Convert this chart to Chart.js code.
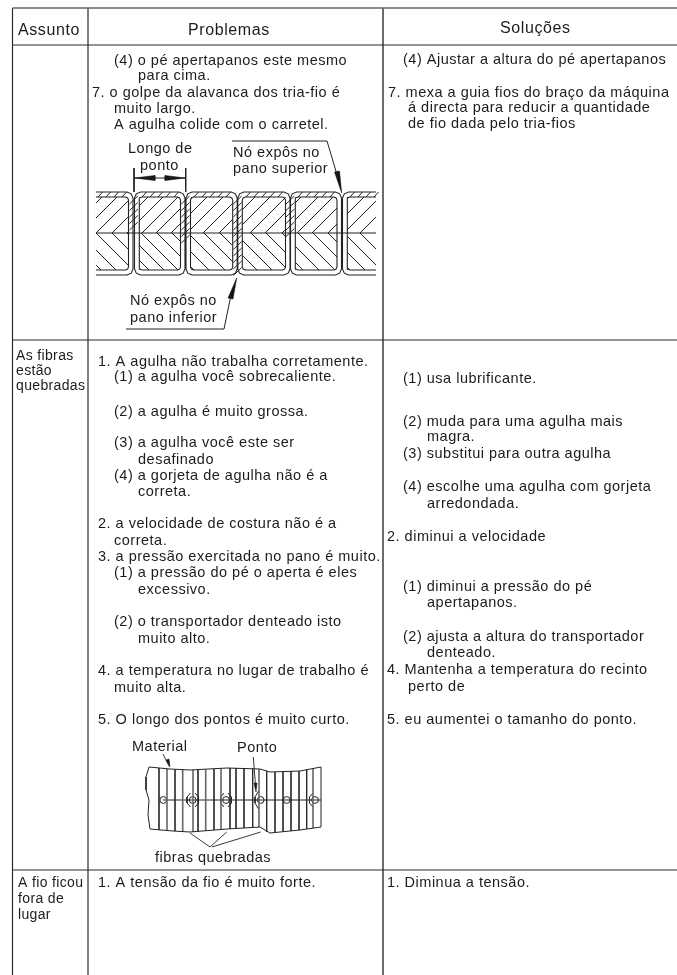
<!DOCTYPE html>
<html lang="pt">
<head>
<meta charset="utf-8">
<title>Assunto / Problemas / Soluções</title>
<script src="https://cdn.jsdelivr.net/npm/chart.js@4/dist/chart.umd.min.js"></script>
<style>
  html, body { margin: 0; padding: 0; background: #fff; }
  canvas { display: block; }
</style>
</head>
<body>
<canvas id="chart" width="677" height="975"></canvas>
<script>
// Everything sits on one x/y scale that reads in page pixels of the scan.
// text rows: [x, baseline, text]
const headers = [
  [18, 35, "Assunto"],
  [188, 35, "Problemas"],
  [500, 33, "Soluções"]
]

const subjects = [
  [16, 360, "As fibras"],
  [16, 375, "estão"],
  [16, 390, "quebradas"],
  [18, 887, "A fio ficou"],
  [18, 903, "fora de"],
  [18, 919, "lugar"]
]

const problems = [
  [114, 65, "(4) o pé apertapanos este mesmo"],
  [138, 80, "para cima."],
  [92, 97, "7. o golpe da alavanca dos tria-fio é"],
  [114, 113, "muito largo."],
  [114, 129, "A agulha colide com o carretel."],
  [98, 366, "1. A agulha não trabalha corretamente."],
  [114, 381, "(1) a agulha você sobrecaliente."],
  [114, 416, "(2) a agulha é muito grossa."],
  [114, 447, "(3) a agulha você este ser"],
  [138, 464, "desafinado"],
  [114, 480, "(4) a gorjeta de agulha não é a"],
  [138, 496, "correta."],
  [98, 528, "2. a velocidade de costura não é a"],
  [114, 545, "correta."],
  [98, 561, "3. a pressão exercitada no pano é muito."],
  [114, 577, "(1) a pressão do pé o aperta é eles"],
  [138, 594, "excessivo."],
  [114, 626, "(2) o transportador denteado isto"],
  [138, 643, "muito alto."],
  [98, 675, "4. a temperatura no lugar de trabalho é"],
  [114, 692, "muito alta."],
  [98, 724, "5. O longo dos pontos é muito curto."],
  [98, 887, "1. A tensão da fio é muito forte."]
]

const solutions = [
  [403, 64, "(4) Ajustar a altura do pé apertapanos"],
  [388, 97, "7. mexa a guia fios do braço da máquina"],
  [408, 112, "á directa para reducir a quantidade"],
  [408, 128, "de fio dada pelo tria-fios"],
  [403, 383, "(1) usa lubrificante."],
  [403, 426, "(2) muda para uma agulha mais"],
  [427, 441, "magra."],
  [403, 458, "(3) substitui para outra agulha"],
  [403, 491, "(4) escolhe uma agulha com gorjeta"],
  [427, 508, "arredondada."],
  [387, 541, "2. diminui a velocidade"],
  [403, 591, "(1) diminui a pressão do pé"],
  [427, 607, "apertapanos."],
  [403, 641, "(2) ajusta a altura do transportador"],
  [427, 657, "denteado."],
  [387, 674, "4. Mantenha a temperatura do recinto"],
  [408, 691, "perto de"],
  [387, 724, "5. eu aumentei o tamanho do ponto."],
  [387, 887, "1. Diminua a tensão."]
]

const figureLabels = [
  [128, 153, "Longo de"],
  [140, 170, "ponto"],
  [233, 157, "Nó expôs no"],
  [233, 173, "pano superior"],
  [130, 305, "Nó expôs no"],
  [130, 322, "pano inferior"],
  [132, 751, "Material"],
  [237, 752, "Ponto"],
  [155, 862, "fibras quebradas"]
]

// table rules: [x0, y0, x1, y1]
const topRule = [[12.5, 8, 677, 8]]
const tableRules = [
  [12.5, 45, 677, 45],
  [12.5, 340, 677, 340],
  [12.5, 870, 677, 870],
  [12.5, 8, 12.5, 975],
  [88, 8, 88, 975]
]
const solutionsRule = [[383, 8, 383, 975]]

// seam figure
const seamCells = [
  [90, 133],
  [134.5, 185],
  [186, 237.2],
  [237.8, 290],
  [290.5, 341.5],
  [342.5, 420]
]
const seamTop = 192
const seamMid = 233
const seamBottom = 275
const seamLeft = 96
const seamRight = 376
const upperHatch = [66, 81, 96, 112, 127, 142, 156, 171, 187, 203, 219, 234, 250, 265, 282, 297, 312, 328, 344, 360, 376]
const lowerHatch = [64, 79, 96, 112, 127, 141, 157, 172, 188, 204, 220, 235, 251, 266, 282, 298, 313, 328, 344, 360]
const topTickX = [98, 106, 114, 122, 142, 150, 158, 166, 174, 194, 202, 210, 218, 226, 246, 254, 262, 270, 278, 298, 306, 314, 322, 330, 350, 358, 366, 374]
// hatched stitch bands: [x, yTop, yBottom]
const bandRuns = [
  [133.7, 200, 232],
  [185.5, 200, 240],
  [237.5, 200, 272],
  [290.2, 200, 236]
]
const seamLeaders = [
  [[134, 168], [134, 192]],
  [[185.7, 168], [185.7, 192]],
  [[134, 178], [185.7, 178]],
  [[232, 141], [327, 141], [338, 178]],
  [[126, 329], [224, 329], [231, 295]]
]
const seamArrows = [
  [[134, 178], [155, 175.5], [155, 180.5]],
  [[185.7, 178], [165, 175.5], [165, 180.5]],
  [[341.7, 193], [334.5, 172], [339.5, 171]],
  [[236.7, 278], [228, 298], [233, 299]]
]

// broken fibres figure
const clothOutline = [
  [149, 767], [146, 777], [146, 790], [149, 800], [148, 815], [150, 829],
  [173, 831], [190, 832], [227, 829], [260, 827], [270, 833], [300, 830], [321, 827],
  [321, 767], [300, 771], [270, 772], [260, 769], [227, 768], [190, 770], [170, 769], [149, 767]
]
// fibres: [x, top, bottom]
const thinFibres = [
  [159, 768, 830], [175, 769.5, 831], [198, 770, 831.5], [214, 769, 830], [230, 768, 829],
  [236, 768, 828.5], [244, 768, 828], [252.7, 768.5, 827.5], [266.7, 771, 832], [275, 772, 832],
  [283, 771.5, 831.5], [291, 771, 831], [299, 771, 830], [306.7, 769.5, 829]
]
const thickFibres = [
  [167, 769, 830.5], [182.7, 769.5, 831.5], [193, 770, 832], [205.7, 769.5, 831],
  [221, 768.5, 829.5], [259, 769, 827], [313, 768, 828]
]
const stitchLine = [[163, 800], [321, 800]]
const stitchHoles = [163.3, 192.7, 226, 260.7, 286.7, 315]
const holeBumps = [
  [[190.5, 793], [187, 797], [187, 803], [190.5, 807]],
  [[195, 793], [198.5, 797], [198.5, 803], [195, 807]],
  [[224, 793], [220.5, 797], [220.5, 803], [224, 807]],
  [[228, 793], [231.5, 797], [231.5, 803], [228, 807]],
  [[258.5, 791], [255, 797], [255, 803], [258.5, 809]],
  [[313, 793], [309.5, 797], [309.5, 803], [313, 807]]
]
const clothLeaders = [
  [[163, 754], [169, 766]],
  [[253.3, 757], [255.5, 785]],
  [[190, 833], [210, 847], [226.7, 832]],
  [[212, 847], [260.7, 832]]
]
const clothArrows = [
  [[256, 792], [254, 783], [257, 783]],
  [[170, 767], [166, 760], [169, 759]]
]

const ink = "#222222"
const bodyFont = "14.5px 'Liberation Sans', sans-serif"

function segmentsToPoints(segments) {
  const pts = []
  segments.forEach(s => pts.push({ x: s[0], y: s[1] }, { x: s[2], y: s[3] }, { x: null, y: null }))
  return pts
}

function polylinesToPoints(lines) {
  const pts = []
  lines.forEach(line => {
    line.forEach(p => pts.push({ x: p[0], y: p[1] }))
    pts.push({ x: null, y: null })
  })
  return pts
}

// rounded box outline, open on the side it runs past the figure edge
function boxOutline(x0, x1, y0, y1, r) {
  const k = r * 0.3
  const pts = []
  if (x0 >= seamLeft) {
    pts.push([x0 + r, y1], [x0 + k, y1 - k], [x0, y1 - r], [x0, y0 + r], [x0 + k, y0 + k], [x0 + r, y0])
  } else {
    pts.push([seamLeft, y0])
  }
  if (x1 <= seamRight) {
    pts.push([x1 - r, y0], [x1 - k, y0 + k], [x1, y0 + r], [x1, y1 - r], [x1 - k, y1 - k], [x1 - r, y1])
    pts.push(x0 >= seamLeft ? [x0 + r, y1] : [seamLeft, y1])
  } else {
    pts.push([seamRight, y0], null, [seamRight, y1], [x0 + r, y1])
  }
  return pts.map(p => (p ? { x: p[0], y: p[1] } : { x: null, y: null })).concat({ x: null, y: null })
}

// clip one 45 degree hatch line to a box
function hatchInBox(x0, dir, box) {
  // dir -1: rises to the right from the mid line, +1: falls to the right from it
  let ax = x0, ay = seamMid
  const rowEnd = dir < 0 ? box.top : box.bottom
  let bx = x0 + Math.abs(rowEnd - seamMid), by = rowEnd
  if (ax < box.left) { ay += dir * (box.left - ax); ax = box.left }
  if (bx > box.right) { by -= dir * (bx - box.right); bx = box.right }
  if (ax >= bx) return []
  return [ax, ay, bx, by]
}

function seamHatchSegments() {
  const out = []
  seamCells.forEach(c => {
    const box = {
      left: Math.max(c[0] + 4.5, seamLeft),
      right: Math.min(c[1] - 4.5, seamRight),
      top: seamTop + 5,
      bottom: seamBottom - 5
    }
    upperHatch.forEach(x => {
      const s = hatchInBox(x, -1, box)
      if (s.length) out.push(s)
    })
    lowerHatch.forEach(x => {
      const s = hatchInBox(x, 1, box)
      if (s.length) out.push(s)
    })
  })
  topTickX.forEach(x => out.push([x, seamTop + 5, x + 4.5, seamTop]))
  bandRuns.forEach(b => {
    for (let y = b[1]; y < b[2]; y += 6.5) out.push([b[0] - 4.2, y + 4, b[0] + 4.2, y - 4])
  })
  out.push([seamLeft, seamMid, seamRight, seamMid])
  return out
}

function seamOutlines() {
  let pts = []
  seamCells.forEach(c => {
    pts = pts.concat(boxOutline(c[0], c[1], seamTop, seamBottom, 6))
    pts = pts.concat(boxOutline(c[0] + 4.5, c[1] - 4.5, seamTop + 5, seamBottom - 5, 3))
  })
  return pts
}

function lineSet(data, width, color) {
  return {
    data,
    showLine: true,
    spanGaps: false,
    tension: 0,
    borderWidth: width,
    borderColor: color || ink,
    pointRadius: 0,
    clip: false
  }
}

function arrowSets(arrows) {
  return arrows.map(a => ({
    data: a.concat([a[0]]).map(p => ({ x: p[0], y: p[1] })),
    showLine: true,
    fill: "shape",
    backgroundColor: "#111111",
    borderColor: "#111111",
    borderWidth: 0.5,
    pointRadius: 0,
    tension: 0,
    clip: false
  }))
}

const datasets = [
  lineSet(segmentsToPoints(topRule), 1.5, "#666666"),
  lineSet(segmentsToPoints(tableRules), 1.2, "#2b2b2b"),
  lineSet(segmentsToPoints(solutionsRule), 2, "#6b6b6b"),
  lineSet(seamOutlines(), 1.1),
  lineSet(segmentsToPoints(seamHatchSegments()), 1),
  lineSet(polylinesToPoints(seamLeaders), 1),
  ...arrowSets(seamArrows),
  lineSet(clothOutline.map(p => ({ x: p[0], y: p[1] })), 1),
  lineSet(segmentsToPoints(thinFibres.map(f => [f[0], f[1], f[0], f[2]])), 0.8),
  lineSet(segmentsToPoints(thickFibres.map(f => [f[0], f[1], f[0], f[2]])), 1.6, "#666666"),
  lineSet(polylinesToPoints(holeBumps), 1),
  lineSet(polylinesToPoints([stitchLine]), 1),
  lineSet(polylinesToPoints(clothLeaders), 0.9),
  ...arrowSets(clothArrows),
  {
    data: stitchHoles.map(x => ({ x, y: 800 })),
    showLine: false,
    pointRadius: 3.4,
    pointBackgroundColor: "#ffffff",
    pointBorderColor: ink,
    pointBorderWidth: 1,
    clip: false
  }
]

// scan text is real text, placed through the same scales as the figure marks
const textLayer = {
  id: "textLayer",
  afterDatasetsDraw(chart) {
    const { ctx, scales } = chart
    const put = (rows, font, spacing) => {
      ctx.font = font
      ctx.letterSpacing = spacing
      rows.forEach(r => ctx.fillText(r[2], scales.x.getPixelForValue(r[0]), scales.y.getPixelForValue(r[1])))
    }
    ctx.save()
    ctx.fillStyle = "#1c1c1c"
    ctx.textBaseline = "alphabetic"
    put(headers, "16px 'Liberation Sans', sans-serif", "0.6px")
    put(subjects, "14px 'Liberation Sans', sans-serif", "0.35px")
    put(problems, bodyFont, "0.5px")
    put(solutions, bodyFont, "0.5px")
    put(figureLabels, bodyFont, "0.5px")
    ctx.restore()
  }
}

new Chart(document.getElementById("chart").getContext("2d"), {
  type: "scatter",
  data: { datasets },
  plugins: [textLayer],
  options: {
    responsive: false,
    animation: false,
    events: [],
    layout: { padding: 0, autoPadding: false },
    plugins: { legend: { display: false }, tooltip: { enabled: false } },
    scales: {
      x: { type: "linear", min: 0, max: 677, display: false },
      y: { type: "linear", min: 0, max: 975, reverse: true, display: false }
    }
  }
})
</script>
</body>
</html>
